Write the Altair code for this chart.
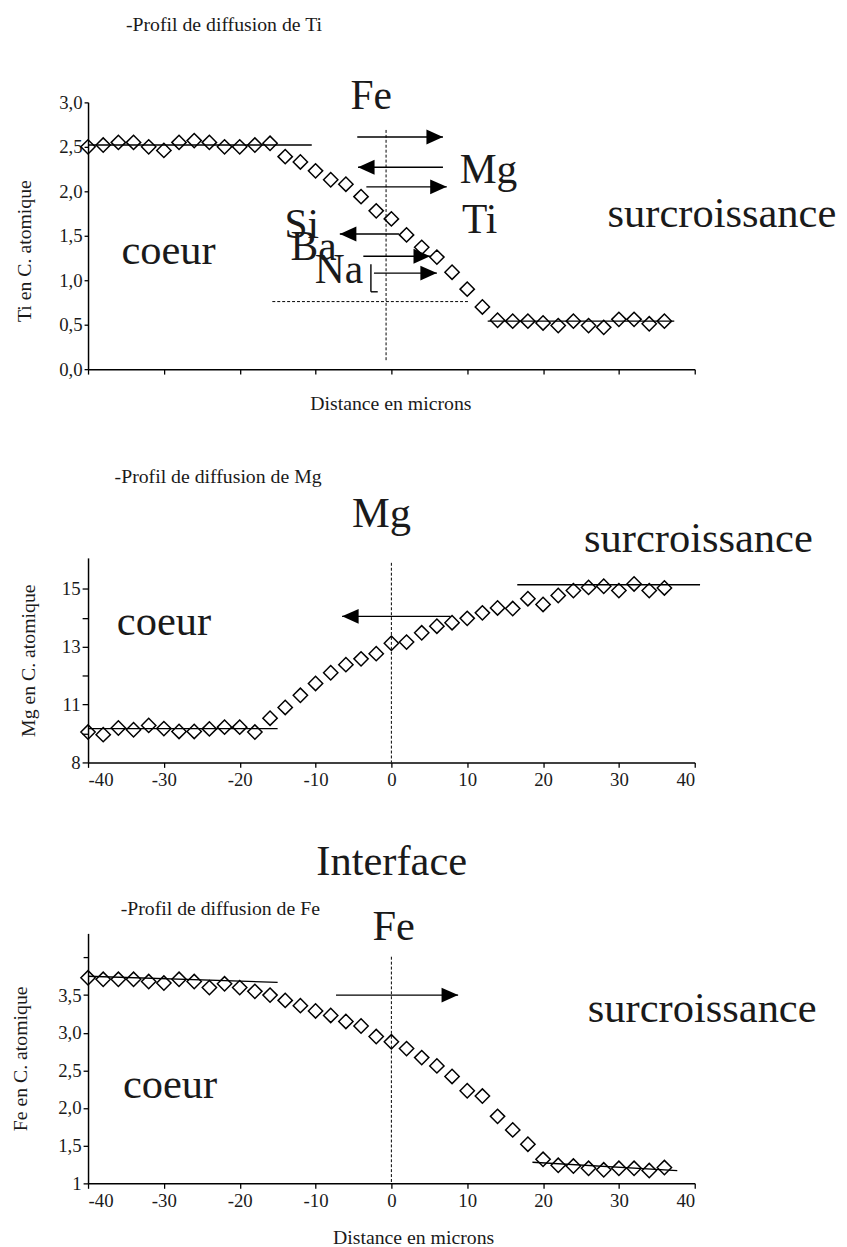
import altair as alt
import pandas as pd

FONT = "Liberation Serif"
INK = "#1a1a1a"

# ---------------- data ----------------
dist = list(range(-40, 38, 2))

ti_values = [2.50, 2.52, 2.55, 2.55, 2.50, 2.46, 2.55, 2.57, 2.55, 2.50, 2.50, 2.52, 2.54,
             2.39, 2.33, 2.23, 2.13, 2.08, 1.94, 1.78, 1.69, 1.51, 1.37, 1.26, 1.09, 0.90, 0.70,
             0.55, 0.54, 0.54, 0.52, 0.49, 0.54, 0.49, 0.47, 0.56, 0.56, 0.51, 0.54]

mg_values = [10.05, 9.96, 10.19, 10.13, 10.28, 10.17, 10.07, 10.07, 10.16, 10.22, 10.22, 10.05,
             10.53, 10.90, 11.32, 11.73, 12.10, 12.38, 12.58, 12.76, 13.12, 13.16, 13.48, 13.71,
             13.83, 13.98, 14.17, 14.34, 14.32, 14.66, 14.46, 14.77, 14.94, 15.05, 15.09, 14.94,
             15.17, 14.94, 15.03]

fe_values = [3.73, 3.71, 3.71, 3.71, 3.68, 3.66, 3.71, 3.68, 3.60, 3.65, 3.60, 3.55, 3.50,
             3.43, 3.36, 3.29, 3.23, 3.15, 3.09, 2.95, 2.88, 2.79, 2.67, 2.56, 2.42, 2.23,
             2.16, 1.89, 1.71, 1.52, 1.32, 1.24, 1.23, 1.20, 1.18, 1.20, 1.20, 1.17, 1.21]

x_ticks = list(range(-40, 41, 10))

# annotations: (text, x, y, fontsize)
ti_texts = [
    ("-Profil de diffusion de Ti", -35.0, 3.80, 20),
    ("Fe", -5.4, 2.92, 42),
    ("Mg", 9.0, 2.09, 42),
    ("Ti", 9.3, 1.53, 42),
    ("Si", -14.1, 1.48, 42),
    ("Ba", -13.3, 1.23, 42),
    ("Na", -10.1, 0.97, 42),
    ("coeur", -35.6, 1.18, 43),
    ("surcroissance", 28.5, 1.60, 43),
    ("Distance en microns", -10.7, -0.46, 20),
]
mg_texts = [
    ("-Profil de diffusion de Mg", -36.5, 18.66, 20),
    ("Mg", -5.2, 17.13, 43),
    ("coeur", -36.2, 13.41, 43),
    ("surcroissance", 25.4, 16.27, 43),
]
fe_texts = [
    ("Interface", -9.9, 5.09, 43),
    ("-Profil de diffusion de Fe", -35.7, 4.57, 20),
    ("Fe", -2.5, 4.23, 43),
    ("coeur", -35.4, 2.13, 43),
    ("surcroissance", 25.9, 3.14, 43),
    ("Distance en microns", -7.7, 0.20, 20),
]

# arrows: (x start, x tip, y)
ti_arrows = [(-4.5, 6.8, 2.61), (6.8, -4.4, 2.27), (-3.3, 7.3, 2.05),
             (1.0, -6.8, 1.52), (-3.7, 5.1, 1.27), (-2.3, 6.0, 1.08)]
mg_arrows = [(7.8, -6.5, 14.05)]
fe_arrows = [(-7.3, 8.8, 3.50)]

# solid segments (x, x2, y, y2)
ti_lines = [(-40, -10.5, 2.52, 2.52), (12.7, 37.3, 0.54, 0.54),
            (-2.7, -2.7, 1.18, 0.87), (-2.7, -1.8, 0.87, 0.87)]
mg_lines = [(-40, -15, 10.17, 10.17), (16.6, 40.7, 15.14, 15.14)]
fe_lines = [(-40, -15, 3.75, 3.67), (18.6, 37.7, 1.28, 1.17)]

# dashed segments
ti_dashed = [(-0.7, -0.7, 2.69, 0.10), (-15.7, 10.3, 0.76, 0.76)]
mg_dashed = [(0, 0, 15.9, 9.0)]
fe_dashed = [(0, 0, 4.01, 1.0)]

RIGHT_HEAD = "M0,0L-2,-0.9L-2,0.9Z"
LEFT_HEAD = "M0,0L2,-0.9L2,0.9Z"


def panel(values, texts, arrows, lines, dashed, ydom, height, yaxis, xaxis):
    xs = alt.Scale(domain=[-40, 40], nice=False, zero=False)
    ys = alt.Scale(domain=ydom, nice=False, zero=False)

    def X(f):
        return alt.X(f + ":Q", scale=xs, axis=xaxis, title=None)

    def Y(f):
        return alt.Y(f + ":Q", scale=ys, axis=yaxis)

    pts = pd.DataFrame({"x": dist, "y": values})
    points = alt.Chart(pts).mark_point(shape="diamond", size=210, filled=False,
                                       color="black", strokeWidth=1.5, opacity=1).encode(
        x=X("x"), y=Y("y"))

    ldf = pd.DataFrame(lines, columns=["x", "x2", "y", "y2"])
    solid = alt.Chart(ldf).mark_rule(color="black", strokeWidth=1.4).encode(
        x=X("x"), x2="x2", y=Y("y"), y2="y2")

    ddf = pd.DataFrame(dashed, columns=["x", "x2", "y", "y2"])
    dash = alt.Chart(ddf).mark_rule(color="black", strokeWidth=1, strokeDash=[3, 2]).encode(
        x=X("x"), x2="x2", y=Y("y"), y2="y2")

    adf = pd.DataFrame(arrows, columns=["x", "tip", "y"])
    shafts = alt.Chart(adf).mark_rule(color="black", strokeWidth=1.4).encode(
        x=X("x"), x2="tip", y=Y("y"))
    rdf = adf[adf["tip"] > adf["x"]]
    ldf2 = adf[adf["tip"] < adf["x"]]
    layers = [points, solid, dash, shafts]
    if len(rdf):
        layers.append(alt.Chart(rdf).mark_point(shape=RIGHT_HEAD, filled=True, color="black",
                                                size=280, opacity=1).encode(x=X("tip"), y=Y("y")))
    if len(ldf2):
        layers.append(alt.Chart(ldf2).mark_point(shape=LEFT_HEAD, filled=True, color="black",
                                                 size=280, opacity=1).encode(x=X("tip"), y=Y("y")))

    tdf = pd.DataFrame(texts, columns=["label", "x", "y", "fs"])
    txt = alt.Chart(tdf).mark_text(font=FONT, align="left", baseline="alphabetic",
                                   color=INK).encode(
        x=X("x"), y=Y("y"), text="label:N", size=alt.Size("fs:Q", scale=None))
    layers.append(txt)

    return alt.layer(*layers).properties(width=614, height=height)


def xaxis(labels):
    kw = dict(values=x_ticks, tickSize=5, domainWidth=1.5, tickWidth=1.3, grid=False,
              domainColor="black", tickColor="black")
    if labels:
        kw.update(labelExpr="'' + datum.value", labelPadding=3, labelFontSize=19,
                  labelFont=FONT, labelColor=INK)
    else:
        kw.update(labels=False)
    return alt.Axis(**kw)


def yaxis(title, values, expr, title_x, title_y=None, tick=5):
    kw = dict(values=values, tickSize=tick, labelExpr=expr, labelPadding=2, labelFontSize=19,
              labelFont=FONT, labelColor=INK, domainWidth=1.5, tickWidth=1.3, grid=False,
              domainColor="black", tickColor="black", title=title, titleFont=FONT,
              titleFontSize=20, titleFontWeight="normal", titleColor=INK,
              titleX=title_x, titleBaseline="middle")
    if title_y is not None:
        kw["titleY"] = title_y
    return alt.Axis(**kw)


comma = "replace(format(datum.value, '.1f'), '.', ',')"

p1 = panel(ti_values, ti_texts, ti_arrows, ti_lines, ti_dashed, [0, 3], 270,
           yaxis("Ti en C. atomique", [0, 0.5, 1, 1.5, 2, 2.5, 3], comma, -64, 150, 4),
           xaxis(False))
p2 = panel(mg_values, mg_texts, mg_arrows, mg_lines, mg_dashed, [9, 16.07], 207,
           yaxis("Mg en C. atomique", [9, 10, 11, 12, 13, 14, 15],
                 "datum.value == 9 ? '8' : (datum.value % 2 == 1 ? '' + datum.value : '')",
                 -60, None, 6),
           xaxis(True))
p3 = panel(fe_values, fe_texts, fe_arrows, fe_lines, fe_dashed, [1, 4.32], 253,
           yaxis("Fe en C. atomique", [1, 1.5, 2, 2.5, 3, 3.5, 4],
                 "datum.value == 1 ? '1' : (datum.value >= 4 ? '' : " + comma + ")",
                 -68, None, 5),
           xaxis(True))

chart = alt.vconcat(p1, p2, p3, spacing=53).properties(
    padding={"left": 2, "top": 0, "right": 2, "bottom": 2},
    background="white",
).configure_view(stroke=None).configure_text(font=FONT).configure_axis(
    labelFont=FONT, titleFont=FONT, grid=False)

chart.save("out.html", embed_options={"renderer": "svg", "actions": False})
